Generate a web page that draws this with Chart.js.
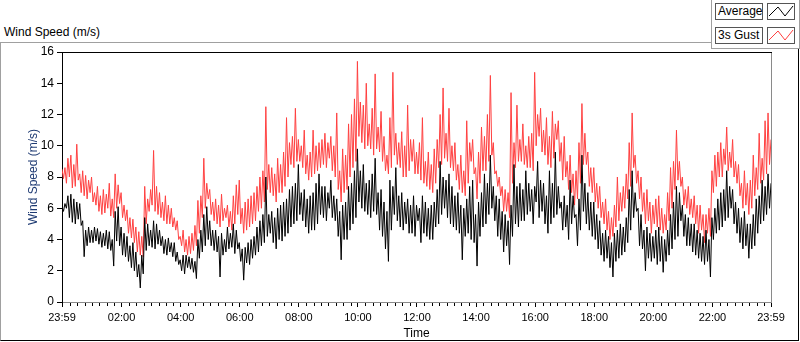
<!DOCTYPE html>
<html>
<head>
<meta charset="utf-8">
<script src="https://cdn.jsdelivr.net/npm/chart.js@4.4.1/dist/chart.umd.min.js"></script>
<style>
  html, body { margin: 0; padding: 0; background: #fff; }
  body { width: 800px; height: 342px; position: relative; overflow: hidden; font-family: "Liberation Sans", Arial, sans-serif; }
  #panel { position: absolute; left: 0; top: 42px; width: 797px; height: 297px;
           border-left: 1px solid #a0a0a0; border-top: 1px solid #a0a0a0;
           border-right: 1px solid #000; border-bottom: 1px solid #000; }
  #title { position: absolute; left: 4px; top: 25px; font-size: 12px; color: #000; }
  #legend { position: absolute; left: 711px; top: 0; width: 87px; height: 48px; background: #fff;
            border-left: 1px solid #a0a0a0; border-right: 1px solid #a0a0a0; border-bottom: 1px solid #a0a0a0; z-index: 2; }
  .lbl { position: absolute; left: 3px; width: 44px; height: 15px; border: 1px solid #555;
         font-size: 12px; line-height: 15px; padding-left: 2px; color: #000; background: #fff; }
  .swatch { position: absolute; left: 55px; width: 26px; height: 15px; border: 1px solid #555; background: #fff; }
  canvas { position: absolute; left: 0; top: 0; z-index: 1; }
</style>
</head>
<body>
<div id="panel"></div>
<div id="title">Wind Speed (m/s)</div>
<canvas id="windChart" width="800" height="342"></canvas>
<div id="legend"></div>

<script>
// one sample every 3 minutes, 23:59 -> 23:59 (481 samples)
const stepMinutes = 3;

const avgSpeed = [
  6.1, 5.8, 6.3, 6.0, 6.8, 5.4, 6.9, 5.1, 6.6, 5.0, 6.4, 5.3, 6.3, 4.9, 5.2, 2.9, 4.6, 3.6, 4.8, 3.8,
  4.6, 3.8, 4.8, 3.9, 4.7, 3.7, 4.5, 3.5, 4.4, 3.6, 4.6, 3.4, 4.5, 3.3, 4.0, 2.3, 5.8, 3.9, 6.1, 3.6,
  4.8, 3.0, 4.4, 2.9, 4.2, 2.6, 3.6, 2.2, 3.8, 2.0, 3.2, 1.6, 2.4, 0.9, 3.0, 1.8, 5.4, 3.3, 5.0, 3.6,
  4.6, 3.5, 5.2, 3.4, 5.0, 3.7, 4.6, 3.6, 4.2, 3.1, 4.0, 3.0, 4.1, 3.2, 3.8, 2.9, 3.8, 2.6, 3.2, 2.4,
  2.7, 2.0, 3.0, 1.8, 3.0, 2.2, 2.9, 2.1, 2.8, 1.9, 2.6, 1.5, 4.0, 2.8, 4.6, 3.2, 5.6, 3.6, 6.1, 4.0,
  5.2, 3.6, 4.6, 3.3, 4.6, 3.2, 4.2, 1.6, 4.4, 3.0, 4.0, 3.2, 4.8, 3.4, 4.4, 3.5, 5.0, 3.1, 4.6, 3.4,
  3.8, 2.6, 3.4, 1.4, 3.5, 2.5, 3.8, 2.4, 4.0, 2.8, 4.2, 3.0, 4.8, 3.2, 5.2, 3.6, 5.6, 3.8, 8.0, 4.2,
  5.6, 4.4, 5.8, 3.8, 5.4, 3.4, 6.0, 4.0, 6.2, 3.9, 6.4, 4.2, 6.6, 4.4, 7.2, 4.8, 7.4, 5.0, 7.6, 5.2,
  8.8, 5.6, 7.0, 5.2, 7.2, 4.8, 6.6, 4.4, 6.8, 4.6, 7.0, 4.6, 7.6, 5.0, 8.2, 5.6, 7.4, 5.4, 7.4, 5.2,
  7.0, 6.0, 7.8, 5.4, 6.8, 5.2, 6.6, 4.2, 5.8, 2.7, 6.2, 4.0, 6.4, 4.0, 7.4, 4.6, 7.6, 5.0, 8.4, 5.4,
  9.8, 6.4, 8.4, 6.0, 8.8, 5.8, 7.6, 5.6, 7.8, 5.4, 8.2, 5.8, 9.2, 5.6, 7.0, 4.6, 7.2, 4.2, 6.4, 3.4,
  5.8, 2.6, 7.8, 4.6, 7.4, 5.6, 8.6, 5.2, 6.8, 4.8, 7.0, 4.6, 6.4, 5.0, 6.6, 4.4, 6.2, 4.4, 6.8, 4.2,
  6.2, 5.2, 6.0, 3.8, 6.8, 4.4, 6.4, 4.2, 6.0, 4.0, 6.2, 4.0, 6.4, 4.8, 7.2, 5.0, 9.0, 5.6, 8.0, 6.0,
  7.8, 5.4, 8.2, 5.0, 7.4, 4.8, 6.8, 4.6, 7.0, 4.4, 6.2, 2.7, 6.0, 4.2, 6.6, 4.4, 7.4, 4.0, 7.8, 3.8,
  5.6, 2.3, 6.4, 4.2, 7.0, 4.8, 8.2, 5.0, 7.6, 5.6, 9.4, 6.0, 7.4, 5.2, 6.8, 4.2, 6.6, 4.0, 5.8, 3.2,
  5.6, 3.6, 5.2, 2.4, 6.2, 4.2, 8.8, 5.0, 7.4, 4.8, 7.6, 5.2, 7.2, 5.2, 8.4, 5.6, 7.6, 5.8, 7.2, 5.0,
  7.4, 6.4, 9.0, 5.4, 7.8, 5.8, 7.6, 5.0, 6.8, 4.4, 8.4, 5.0, 7.6, 5.4, 9.6, 5.6, 7.4, 6.0, 6.4, 4.6,
  6.8, 4.8, 6.2, 4.0, 7.8, 5.0, 6.8, 5.4, 5.6, 3.6, 6.6, 4.6, 9.4, 5.8, 7.6, 5.0, 7.0, 4.6, 6.4, 4.2,
  6.4, 4.0, 5.6, 3.4, 5.2, 3.0, 4.4, 2.6, 4.6, 2.8, 4.2, 2.2, 3.8, 1.6, 4.4, 2.6, 4.6, 2.8, 5.0, 3.0,
  4.8, 3.2, 5.4, 3.8, 7.2, 4.6, 8.4, 5.4, 7.0, 5.8, 6.0, 3.6, 5.6, 3.4, 4.6, 2.0, 4.8, 2.8, 4.4, 2.6,
  4.2, 2.8, 4.6, 2.4, 4.8, 2.6, 4.2, 1.9, 4.0, 2.6, 4.6, 3.0, 5.6, 3.4, 6.4, 4.0, 7.4, 4.2, 7.0, 5.2,
  6.2, 4.2, 5.6, 3.6, 5.4, 3.6, 5.0, 3.2, 5.0, 3.0, 4.6, 2.8, 4.4, 2.6, 4.2, 2.4, 4.6, 2.6, 4.0, 1.6,
  5.4, 4.0, 6.0, 4.4, 6.6, 4.6, 7.0, 4.8, 7.2, 5.2, 8.4, 5.4, 7.4, 6.0, 7.2, 5.0, 6.4, 4.4, 6.0, 3.8,
  5.4, 3.4, 5.8, 3.6, 5.0, 2.8, 5.0, 3.4, 5.6, 3.6, 6.6, 4.4, 6.8, 5.0, 7.8, 5.2, 7.4, 5.6, 8.2, 6.0,
  7.6
];

const gustSpeed = [
  8.5, 7.9, 8.6, 7.6, 9.2, 8.0, 9.4, 7.3, 8.8, 7.4, 10.1, 7.8, 8.2, 7.0, 8.4, 6.8, 8.1, 6.6, 7.8, 7.0,
  8.0, 6.4, 7.0, 6.2, 7.4, 5.8, 6.8, 5.6, 7.2, 5.7, 6.9, 6.0, 7.6, 5.5, 6.6, 5.4, 8.2, 6.0, 7.5, 6.3,
  7.0, 5.4, 6.2, 5.2, 5.9, 4.4, 5.4, 4.1, 5.3, 3.8, 4.8, 3.2, 4.5, 3.0, 4.2, 2.9, 7.4, 5.0, 6.6, 5.8,
  7.2, 6.2, 9.7, 5.8, 7.4, 5.6, 7.0, 5.4, 6.4, 5.2, 6.8, 5.0, 6.2, 5.0, 6.0, 4.8, 5.4, 4.6, 5.2, 4.0,
  4.2, 3.6, 4.6, 3.2, 4.0, 3.0, 4.2, 3.1, 4.4, 3.3, 4.9, 3.6, 6.5, 4.4, 6.8, 5.4, 9.2, 6.0, 7.6, 6.6,
  7.2, 5.6, 6.4, 5.2, 6.6, 5.0, 6.2, 4.8, 6.9, 5.2, 6.0, 5.4, 6.2, 4.8, 5.8, 4.6, 6.8, 5.0, 7.5, 5.6,
  7.8, 5.0, 6.0, 4.4, 6.4, 4.6, 6.6, 4.8, 6.8, 5.0, 7.0, 5.2, 7.4, 5.8, 8.0, 6.0, 8.4, 6.4, 12.5, 7.2,
  8.8, 7.0, 8.6, 6.8, 8.2, 6.4, 9.2, 7.0, 8.8, 7.0, 9.6, 7.4, 11.8, 8.0, 10.2, 8.8, 10.6, 8.6, 12.4, 9.0,
  10.4, 9.0, 10.0, 8.6, 11.0, 8.2, 9.4, 7.8, 9.6, 8.0, 11.0, 8.2, 10.0, 8.4, 10.2, 8.6, 10.4, 8.8, 10.8, 8.6,
  10.2, 9.2, 10.6, 8.4, 10.0, 8.0, 12.1, 7.2, 8.4, 6.4, 9.8, 7.0, 9.4, 7.2, 11.4, 8.0, 12.0, 8.6, 13.0, 9.0,
  15.4, 10.6, 12.8, 10.2, 12.6, 9.8, 14.0, 10.0, 11.4, 9.8, 12.4, 9.4, 14.6, 9.8, 11.2, 9.6, 12.2, 9.0, 10.6, 8.4,
  9.4, 8.2, 11.8, 8.6, 14.7, 9.4, 10.8, 8.8, 10.2, 8.6, 10.9, 8.0, 10.0, 8.0, 12.6, 8.4, 10.4, 9.0, 10.4, 8.2,
  9.6, 8.2, 10.2, 7.8, 11.8, 7.6, 9.0, 7.4, 9.6, 7.2, 8.8, 7.0, 9.8, 7.6, 10.4, 8.6, 12.0, 8.8, 13.7, 9.2,
  10.8, 9.0, 12.4, 8.6, 10.0, 8.4, 10.2, 7.8, 8.8, 7.2, 9.4, 7.0, 8.4, 6.8, 11.6, 7.6, 10.2, 9.0, 10.4, 8.2,
  8.6, 6.6, 9.6, 7.6, 11.2, 8.4, 10.6, 8.4, 12.0, 9.0, 14.5, 9.4, 10.2, 8.2, 8.4, 7.4, 8.0, 6.8, 7.4, 5.8,
  7.2, 5.8, 7.0, 5.4, 13.4, 7.6, 10.2, 8.6, 12.6, 9.0, 10.4, 9.0, 11.4, 8.8, 10.0, 8.6, 10.6, 8.6, 10.8, 8.4,
  14.7, 10.0, 12.0, 10.6, 12.4, 9.6, 11.0, 9.4, 11.8, 8.8, 10.6, 8.6, 12.2, 9.2, 11.4, 10.4, 11.6, 9.0, 10.2, 7.8,
  10.6, 8.0, 9.0, 7.2, 9.4, 7.0, 8.2, 6.2, 8.4, 6.6, 10.2, 7.6, 12.7, 8.8, 10.8, 8.8, 9.6, 7.4, 8.6, 7.0,
  8.6, 6.4, 7.6, 6.0, 7.4, 5.4, 6.4, 5.0, 6.6, 4.6, 5.8, 4.0, 5.4, 4.2, 6.2, 4.8, 8.0, 5.2, 7.0, 5.8,
  7.4, 6.0, 8.2, 6.6, 10.2, 7.4, 12.1, 8.6, 9.4, 7.6, 8.4, 6.6, 8.0, 5.8, 7.0, 5.0, 7.2, 5.2, 6.4, 4.4,
  6.2, 5.0, 6.6, 4.8, 6.8, 4.6, 6.0, 4.4, 5.6, 4.6, 7.0, 5.2, 8.6, 6.0, 9.0, 7.2, 11.0, 7.8, 9.0, 7.4,
  8.0, 6.2, 7.2, 6.0, 7.4, 5.6, 6.6, 5.4, 6.8, 5.0, 6.2, 4.4, 6.2, 4.6, 5.6, 3.8, 5.6, 4.4, 6.0, 4.2,
  8.4, 7.0, 9.4, 7.4, 9.6, 8.0, 10.2, 8.0, 9.8, 8.8, 11.2, 8.4, 9.6, 8.6, 10.4, 8.0, 9.0, 7.6, 8.8, 6.8,
  7.6, 6.0, 8.4, 6.2, 7.6, 5.6, 7.8, 6.0, 9.4, 6.8, 8.6, 7.2, 10.8, 7.6, 9.2, 7.8, 11.6, 8.2, 12.1, 8.8,
  10.4
];

const seriesNames = ['Average', '3s Gust'];
const seriesColors = ['#000000', '#ff4040'];

// x axis: minutes since 23:59
const timeTickMinutes = [0, 121, 241, 361, 481, 601, 721, 841, 961, 1081, 1201, 1321, 1440];
const timeTickLabels = ['23:59', '02:00', '04:00', '06:00', '08:00', '10:00', '12:00',
                        '14:00', '16:00', '18:00', '20:00', '22:00', '23:59'];
const minorTickMinutes = [];
for (let m = 1 + 15; m < 1440; m += 15) minorTickMinutes.push(m);

const speedTicks = [0, 2, 4, 6, 8, 10, 12, 14, 16];

Chart.defaults.font.family = '"Liberation Sans", Arial, sans-serif';
Chart.defaults.color = '#000';

const toPoints = arr => arr.map((v, i) => ({ x: i * stepMinutes, y: v }));

// top black line, right grey line and the small 15 min ticks
const framePlugin = {
  id: 'frame',
  afterDraw(chart) {
    const { ctx, chartArea: a, scales } = chart;
    ctx.save();
    ctx.lineWidth = 1;
    ctx.strokeStyle = '#000';
    ctx.beginPath();
    ctx.moveTo(a.left, a.top + 0.5);
    ctx.lineTo(a.right + 1, a.top + 0.5);
    ctx.stroke();
    ctx.strokeStyle = '#8a8a8a';
    ctx.beginPath();
    ctx.moveTo(a.right + 0.5, a.top + 1);
    ctx.lineTo(a.right + 0.5, a.bottom);
    ctx.stroke();
    ctx.strokeStyle = '#000';
    ctx.beginPath();
    minorTickMinutes.forEach(m => {
      if (timeTickMinutes.includes(m)) return;
      const x = Math.round(scales.x.getPixelForValue(m)) + 0.5;
      ctx.moveTo(x, a.bottom + 1);
      ctx.lineTo(x, a.bottom + 4);
    });
    ctx.stroke();
    ctx.restore();
  }
};

new Chart(document.getElementById('windChart'), {
  type: 'line',
  data: {
    datasets: [
      { label: seriesNames[0], data: toPoints(avgSpeed), borderColor: seriesColors[0], borderWidth: 1,
        pointRadius: 0, tension: 0, fill: false },
      { label: seriesNames[1], data: toPoints(gustSpeed), borderColor: seriesColors[1], borderWidth: 1,
        pointRadius: 0, tension: 0, fill: false }
    ]
  },
  options: {
    responsive: false,
    animation: false,
    events: [],
    layout: { padding: { top: 52, right: 29, left: 0, bottom: 0 } },
    plugins: { legend: { display: false }, tooltip: { enabled: false } },
    scales: {
      x: {
        type: 'linear', min: 0, max: 1440,
        afterBuildTicks: s => { s.ticks = timeTickMinutes.map(v => ({ value: v })); },
        afterFit: s => { s.height = 40; },
        ticks: { autoSkip: false, maxRotation: 0, minRotation: 0, padding: 4,
                 font: { size: 11 }, color: '#000',
                 callback: (v, i) => timeTickLabels[i] },
        grid: { drawOnChartArea: false, tickLength: 5, color: '#000' },
        border: { display: true, color: '#8a8a8a' },
        title: { display: true, text: 'Time', font: { size: 12 }, color: '#000', padding: { top: 0, bottom: 1 } }
      },
      y: {
        min: 0, max: 16,
        afterBuildTicks: s => { s.ticks = speedTicks.map(v => ({ value: v })); },
        afterFit: s => { s.width = 62; },
        ticks: { font: { size: 12 }, color: '#000', padding: 3 },
        grid: { drawOnChartArea: false, tickLength: 5, color: '#000' },
        border: { display: true, color: '#000' },
        title: { display: true, text: 'Wind Speed (m/s)', font: { size: 12 }, color: '#1f3b73',
                 padding: { top: 26, bottom: 0 } }
      }
    }
  },
  plugins: [framePlugin]
});

// legend built from the series names
const legend = document.getElementById('legend');
seriesNames.forEach((name, i) => {
  const top = 3 + i * 24;
  const lbl = document.createElement('div');
  lbl.className = 'lbl';
  lbl.style.top = top + 'px';
  lbl.textContent = name;
  legend.appendChild(lbl);
  const sw = document.createElement('div');
  sw.className = 'swatch';
  sw.style.top = top + 'px';
  sw.innerHTML = '<svg width="26" height="15"><polyline points="1,12 10,3 17,12 25,2" fill="none" stroke="' +
    seriesColors[i] + '" stroke-width="1"/></svg>';
  legend.appendChild(sw);
});
</script>
</body>
</html>
